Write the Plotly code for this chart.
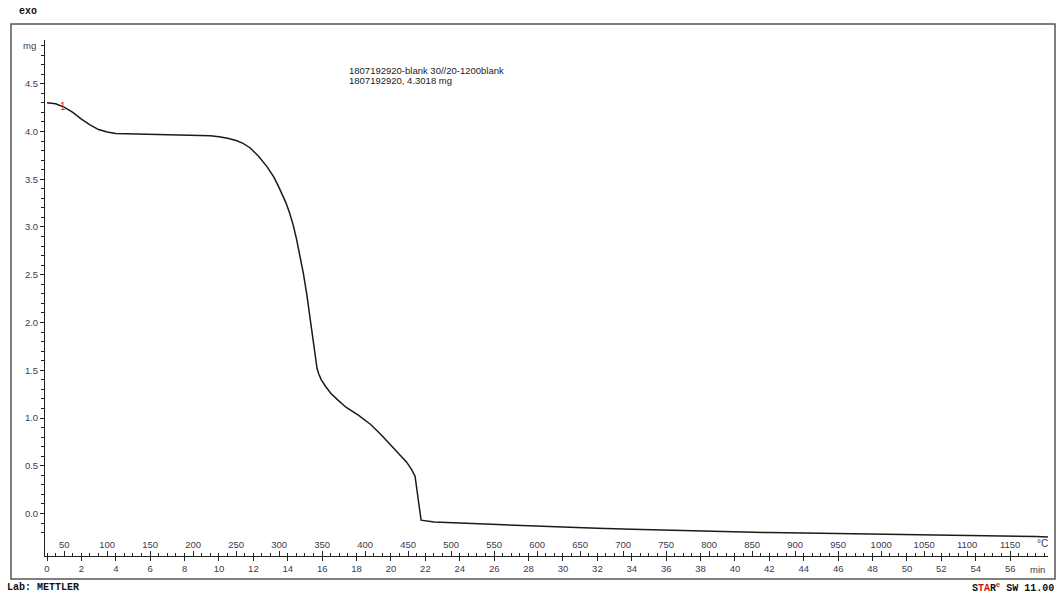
import plotly.graph_objects as go
import numpy as np

# ---- data ----
time_min = [0, 0.5, 1.0, 1.5, 2.0, 2.5, 3.0, 3.5, 4.0, 5, 6, 7, 8, 9, 9.5, 10, 10.5, 11.0,
            11.4, 11.8, 12.3, 12.8, 13.2, 13.5, 13.9, 14.1, 14.3, 14.5, 14.7, 14.9, 15.1,
            15.3, 15.45, 15.6, 15.7, 15.8, 15.95, 16.2, 16.5, 16.9, 17.4, 18.1, 18.8,
            19.4, 20.0, 20.5, 20.9, 21.2, 21.4, 21.75, 22.5, 24, 26, 28, 30, 32, 34, 36,
            38, 40, 42, 44, 46, 48, 50, 52, 54, 56, 57.5, 58.2]
mass_mg = [4.3018, 4.29, 4.255, 4.20, 4.13, 4.07, 4.02, 3.995, 3.98, 3.975, 3.972, 3.968,
           3.965, 3.96, 3.955, 3.945, 3.93, 3.905, 3.875, 3.83, 3.74, 3.63, 3.52, 3.41,
           3.25, 3.15, 3.03, 2.88, 2.71, 2.52, 2.30, 2.05, 1.84, 1.63, 1.52, 1.46, 1.40,
           1.33, 1.26, 1.19, 1.11, 1.03, 0.935, 0.83, 0.71, 0.62, 0.54, 0.46, 0.39, -0.07,
           -0.09, -0.10, -0.115, -0.13, -0.145, -0.155, -0.165, -0.175, -0.185, -0.195,
           -0.20, -0.205, -0.21, -0.215, -0.218, -0.222, -0.226, -0.232, -0.24, -0.245]

y_tick_vals = [0.0, 0.5, 1.0, 1.5, 2.0, 2.5, 3.0, 3.5, 4.0, 4.5]
min_tick_vals = list(range(0, 57, 2))
temp_tick_vals = list(range(50, 1151, 50))
start_temp_c = 30      # from "30//20-1200"
heating_rate = 20      # K/min
marker_t = 0.93        # red "1" marker position (min)

title_lines = ["1807192920-blank 30//20-1200blank", "1807192920, 4.3018 mg"]

# ---- layout geometry (pixels) ----
W, H = 1058, 593
L, R, T, B = 45, 1048, 40, 556
t_range = [-0.116, 58.2]
y_range = [-0.445, 4.958]
temp_range = [start_temp_c + heating_rate * t_range[0], start_temp_c + heating_rate * t_range[1]]


def px(x):
    return (x - L) / (R - L)


def py(y):
    return (B - y) / (B - T)


tick_font = dict(family="Liberation Sans", size=9.5, color="#3a3a52")
mono = "Liberation Mono"

fig = go.Figure()
fig.add_trace(go.Scatter(x=time_min, y=mass_mg, mode="lines",
                         line=dict(color="#1a1a1a", width=1.5), hoverinfo="skip",
                         showlegend=False))
fig.add_trace(go.Scatter(x=[temp_range[0]], y=[None], xaxis="x2", mode="lines",
                         showlegend=False, hoverinfo="skip"))

marker_y = float(np.interp(marker_t, time_min, mass_mg))

annotations = [
    dict(x=marker_t, y=marker_y, xref="x", yref="y", text="1", showarrow=False,
         font=dict(family="Liberation Sans", size=10, color="#e02020")),
    dict(x=px(347), y=py(70), xref="paper", yref="paper", xanchor="left", yanchor="middle",
         text=title_lines[0], showarrow=False, font=dict(family="Liberation Sans", size=9.5, color="#222")),
    dict(x=px(347), y=py(80), xref="paper", yref="paper", xanchor="left", yanchor="middle",
         text=title_lines[1], showarrow=False, font=dict(family="Liberation Sans", size=9.5, color="#222")),
    dict(x=px(38), y=py(45), xref="paper", yref="paper", xanchor="right", yanchor="middle",
         text="mg", showarrow=False, font=tick_font),
    dict(x=px(1047), y=py(569), xref="paper", yref="paper", xanchor="right", yanchor="middle",
         text="min", showarrow=False, font=tick_font),
    dict(x=px(1050), y=py(543), xref="paper", yref="paper", xanchor="right", yanchor="middle",
         text="°C", showarrow=False, font=dict(family="Liberation Sans", size=10, color="#3a3a52")),
    dict(x=px(17), y=py(12), xref="paper", yref="paper", xanchor="left", yanchor="middle",
         text="<b>exo</b>", showarrow=False, font=dict(family=mono, size=10, color="#111")),
    dict(x=px(5), y=py(587), xref="paper", yref="paper", xanchor="left", yanchor="middle",
         text="<b>Lab: METTLER</b>", showarrow=False, font=dict(family=mono, size=10, color="#111")),
    dict(x=px(1056), y=py(587), xref="paper", yref="paper", xanchor="right", yanchor="middle",
         text="<b><span style='color:#111'>S</span><span style='color:#d01010'>TA</span>"
              "<span style='color:#111'>R</span><sup><span style='color:#d01010'>e</span></sup>"
              "<span style='color:#111'> SW 11.00</span></b>",
         showarrow=False, font=dict(family=mono, size=10, color="#111")),
]

shapes = [
    dict(type="rect", xref="paper", yref="paper", x0=px(11), x1=px(1055), y0=py(24), y1=py(579),
         line=dict(color="#555", width=1.5), fillcolor="rgba(0,0,0,0)", layer="below"),
]

fig.update_layout(
    width=W, height=H,
    margin=dict(l=L, r=W - R, t=T, b=H - B),
    plot_bgcolor="white", paper_bgcolor="white",
    showlegend=False,
    annotations=annotations,
    shapes=shapes,
    xaxis=dict(range=t_range, showgrid=False, zeroline=False, showline=True,
               linecolor="#222", linewidth=1, tickmode="array", tickvals=min_tick_vals,
               ticks="outside", ticklen=4, tickcolor="#222", tickfont=tick_font,
               minor=dict(dtick=0.5, tick0=0, ticks="inside", ticklen=3, tickcolor="#222"),
               anchor="y"),
    xaxis2=dict(range=temp_range, overlaying="x", side="bottom", anchor="y",
                showgrid=False, zeroline=False, showline=False,
                tickmode="array", tickvals=temp_tick_vals, ticks="inside", ticklen=5,
                tickcolor="#222", ticklabelposition="inside", tickfont=tick_font),
    yaxis=dict(range=y_range, showgrid=False, zeroline=False, showline=True,
               linecolor="#222", linewidth=1, tickmode="array", tickvals=y_tick_vals,
               tickformat=".1f", ticks="outside", ticklen=4, tickcolor="#222",
               tickfont=tick_font,
               minor=dict(dtick=0.1, tick0=0, ticks="outside", ticklen=3, tickcolor="#222")),
)

fig.write_html("out.html")
